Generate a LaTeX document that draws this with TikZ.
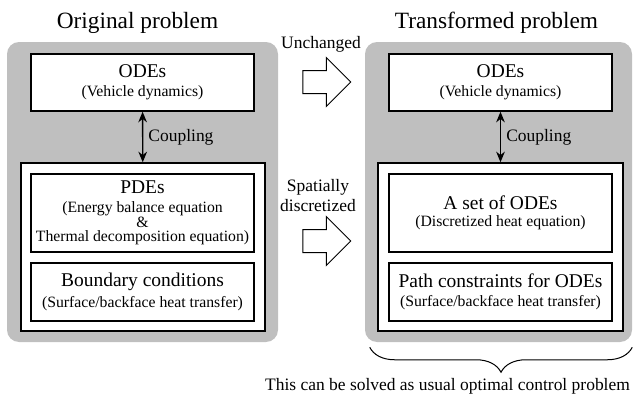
\documentclass[tikz,border=0pt]{standalone}
\usepackage{fontspec}
\setmainfont{Liberation Serif}
\usetikzlibrary{arrows.meta,positioning,shapes.arrows,decorations.pathreplacing}

\newcommand{\boxmain}{\fontsize{14.6}{17}\selectfont}
\newcommand{\boxsub}{\fontsize{11.8}{11}\selectfont}

\begin{document}
\begin{tikzpicture}[
  x=0.75pt, y=-0.75pt,
  panel/.style={rounded corners=9pt, fill=black!25, minimum height=225pt, inner sep=0pt},
  group/.style={draw, fill=white, line width=1.05pt, minimum height=126pt, inner sep=0pt},
  eqbox/.style={draw, fill=white, line width=1.05pt, minimum width=167.25pt,
    align=center, inner sep=0pt, font=\boxsub},
  heading/.style={font=\fontsize{17.5}{20}\selectfont, anchor=base},
  sidelabel/.style={font=\fontsize{13.1}{15}\selectfont, align=center},
  couple/.style={{Stealth[length=8pt,width=6.5pt]}-{Stealth[length=8pt,width=6.5pt]}, line width=1pt},
  bigarrow/.style={single arrow, draw, fill=white, line width=0.75pt, minimum height=36pt,
    inner xsep=0pt, inner ysep=8.25pt, single arrow head extend=9.75pt, single arrow tip angle=90},
  brace/.style={decorate, decoration={brace, mirror, amplitude=18.75pt}, line width=0.75pt}
]
\useasboundingbox (0,0) rectangle (633,396);

% original problem
\node[heading] (orig-title) at (137.5,28) {Original problem};
\node[panel, minimum width=203.25pt] (orig-panel) at (142.5,192) {};
\node[eqbox, minimum height=42.75pt] (orig-ode) at (142.5,82.5) {
  {\boxmain ODEs}\\[3.25pt]
  (Vehicle dynamics)
};
\node[group, minimum width=183pt] (orig-group) at (143,247) {};
\node[eqbox, minimum height=58.5pt] (orig-pde) at (142.5,213) {
  {\boxmain PDEs}\\[3pt]
  (Energy balance equation\\
  \&\\
  Thermal decomposition equation)
};
\node[eqbox, minimum height=43.5pt] (orig-bc) at (142.5,292) {
  {\boxmain Boundary conditions}\\[3pt]
  (Surface/backface heat transfer)
};
\draw[couple] (orig-ode) -- node[sidelabel, right=0.5pt] {Coupling} (orig-group);

% transformed problem
\node[heading] (trans-title) at (496.5,28) {Transformed problem};
\node[panel, minimum width=200.25pt] (trans-panel) at (498.5,192) {};
\node[eqbox, minimum height=42.75pt] (trans-ode) at (500.5,82.5) {
  {\boxmain ODEs}\\[3.25pt]
  (Vehicle dynamics)
};
\node[group, minimum width=183.75pt] (trans-group) at (500.5,247) {};
\node[eqbox, minimum height=58.5pt] (trans-set) at (500.5,213) {
  {\boxmain A set of ODEs}\\[2pt]
  (Discretized heat equation)
};
\node[eqbox, minimum height=43.5pt] (trans-path) at (500.5,292) {
  {\boxmain Path constraints for ODEs}\\[3pt]
  (Surface/backface heat transfer)
};
\draw[couple] (trans-ode) -- node[sidelabel, right=0.5pt] {Coupling} (trans-group);

% transformation arrows
\node[sidelabel, anchor=base] (keep-label) at (321,48) {Unchanged};
\node[bigarrow] (keep-arrow) at (321,82) {};
\node[sidelabel] (disc-label) at (318,196) {Spatially\\discretized};
\node[bigarrow] (disc-arrow) at (321,241) {};

\draw[brace] ([xshift=3.75pt, yshift=-3.75pt]trans-panel.south west)
  -- ([yshift=-3.75pt]trans-panel.south east);
\node[sidelabel, anchor=base] (solve-note) at (447.5,390)
  {This can be solved as usual optimal control problem};
\end{tikzpicture}
\end{document}
